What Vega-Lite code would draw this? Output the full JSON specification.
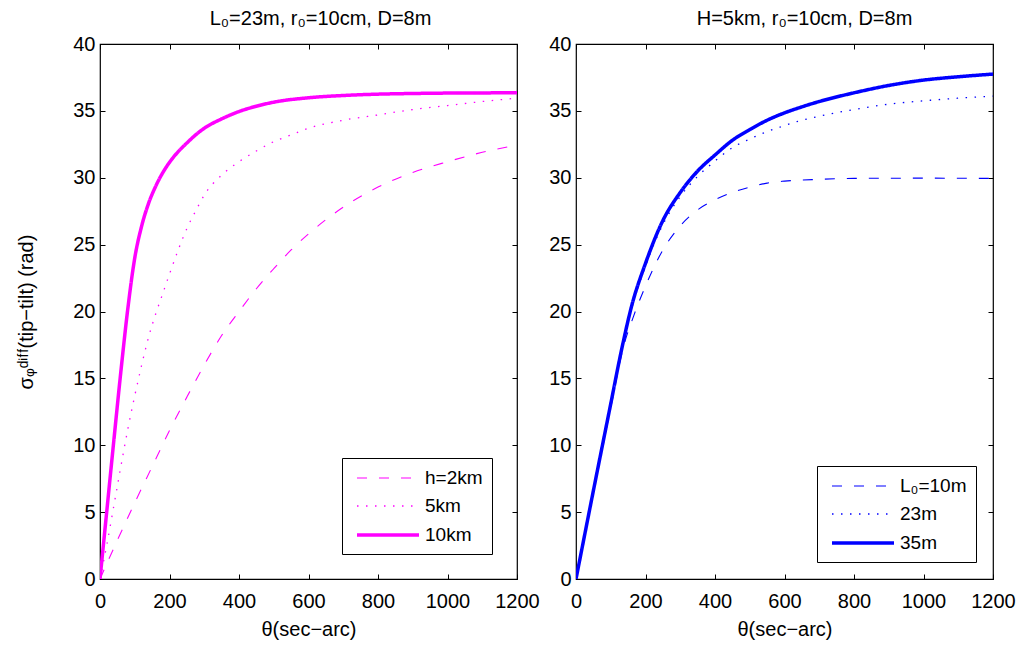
{
  "$schema": "https://vega.github.io/schema/vega-lite/v6.json",
  "background": "white",
  "padding": {"left": 16, "top": 8, "right": 5, "bottom": 5},
  "config": {
    "font": "Liberation Sans",
    "view": {"stroke": "black", "strokeWidth": 1.2},
    "axis": {
      "labelFont": "Liberation Sans", "labelFontSize": 20, "labelColor": "black",
      "titleFont": "Liberation Sans", "titleFontSize": 20, "titleFontWeight": "normal", "titleColor": "black",
      "tickColor": "black", "tickSize": -5, "tickWidth": 1, "domain": false, "grid": false,
      "labelFlush": false, "labelOverlap": false
    },
    "legend": {
      "orient": "bottom-right", "offset": 25, "strokeColor": "black", "fillColor": "white",
      "padding": 9, "labelFont": "Liberation Sans", "labelFontSize": 19, "labelColor": "black",
      "symbolType": "M-0.6,0H5.6", "symbolSize": 400, "rowPadding": 7, "labelOffset": 50
    },
    "title": {"font": "Liberation Sans", "fontSize": 20, "fontWeight": "normal", "color": "black", "offset": 5}
  },
  "datasets": {
    "left": [
      {"s": "h=2km", "t": 0, "v": 0}, {"s": "h=2km", "t": 50, "v": 2.9}, {"s": "h=2km", "t": 100, "v": 5.7}, {"s": "h=2km", "t": 150, "v": 8.4}, {"s": "h=2km", "t": 200, "v": 11.1}, {"s": "h=2km", "t": 250, "v": 13.6}, {"s": "h=2km", "t": 300, "v": 16.0}, {"s": "h=2km", "t": 350, "v": 18.2}, {"s": "h=2km", "t": 400, "v": 20.0}, {"s": "h=2km", "t": 450, "v": 21.7}, {"s": "h=2km", "t": 500, "v": 23.2}, {"s": "h=2km", "t": 550, "v": 24.6}, {"s": "h=2km", "t": 600, "v": 25.8}, {"s": "h=2km", "t": 700, "v": 27.8}, {"s": "h=2km", "t": 800, "v": 29.3}, {"s": "h=2km", "t": 900, "v": 30.4}, {"s": "h=2km", "t": 1000, "v": 31.2}, {"s": "h=2km", "t": 1100, "v": 31.9}, {"s": "h=2km", "t": 1200, "v": 32.45},
      {"s": "5km", "t": 0, "v": 0}, {"s": "5km", "t": 20, "v": 2.6}, {"s": "5km", "t": 40, "v": 5.5}, {"s": "5km", "t": 60, "v": 8.4}, {"s": "5km", "t": 80, "v": 11.2}, {"s": "5km", "t": 100, "v": 13.7}, {"s": "5km", "t": 120, "v": 16.0}, {"s": "5km", "t": 140, "v": 18.1}, {"s": "5km", "t": 160, "v": 19.8}, {"s": "5km", "t": 180, "v": 21.3}, {"s": "5km", "t": 200, "v": 22.8}, {"s": "5km", "t": 225, "v": 24.6}, {"s": "5km", "t": 250, "v": 26.2}, {"s": "5km", "t": 275, "v": 27.5}, {"s": "5km", "t": 300, "v": 28.7}, {"s": "5km", "t": 350, "v": 30.2}, {"s": "5km", "t": 400, "v": 31.2}, {"s": "5km", "t": 450, "v": 32.0}, {"s": "5km", "t": 500, "v": 32.7}, {"s": "5km", "t": 550, "v": 33.2}, {"s": "5km", "t": 600, "v": 33.7}, {"s": "5km", "t": 700, "v": 34.3}, {"s": "5km", "t": 800, "v": 34.7}, {"s": "5km", "t": 900, "v": 35.1}, {"s": "5km", "t": 1000, "v": 35.4}, {"s": "5km", "t": 1100, "v": 35.7}, {"s": "5km", "t": 1200, "v": 35.95},
      {"s": "10km", "t": 0, "v": 0}, {"s": "10km", "t": 20, "v": 5.2}, {"s": "10km", "t": 40, "v": 10.4}, {"s": "10km", "t": 60, "v": 15.5}, {"s": "10km", "t": 80, "v": 20.2}, {"s": "10km", "t": 100, "v": 24.0}, {"s": "10km", "t": 120, "v": 26.4}, {"s": "10km", "t": 140, "v": 28.1}, {"s": "10km", "t": 160, "v": 29.35}, {"s": "10km", "t": 180, "v": 30.35}, {"s": "10km", "t": 200, "v": 31.15}, {"s": "10km", "t": 225, "v": 31.95}, {"s": "10km", "t": 250, "v": 32.6}, {"s": "10km", "t": 275, "v": 33.2}, {"s": "10km", "t": 300, "v": 33.7}, {"s": "10km", "t": 350, "v": 34.4}, {"s": "10km", "t": 400, "v": 34.95}, {"s": "10km", "t": 450, "v": 35.35}, {"s": "10km", "t": 500, "v": 35.65}, {"s": "10km", "t": 600, "v": 35.98}, {"s": "10km", "t": 700, "v": 36.15}, {"s": "10km", "t": 800, "v": 36.25}, {"s": "10km", "t": 900, "v": 36.3}, {"s": "10km", "t": 1000, "v": 36.33}, {"s": "10km", "t": 1200, "v": 36.35}
    ],
    "right": [
      {"s": "L₀=10m", "t": 0, "v": 0}, {"s": "L₀=10m", "t": 50, "v": 6.5}, {"s": "L₀=10m", "t": 100, "v": 12.8}, {"s": "L₀=10m", "t": 136, "v": 17.3}, {"s": "L₀=10m", "t": 165, "v": 19.6}, {"s": "L₀=10m", "t": 200, "v": 21.9}, {"s": "L₀=10m", "t": 250, "v": 24.6}, {"s": "L₀=10m", "t": 300, "v": 26.4}, {"s": "L₀=10m", "t": 350, "v": 27.6}, {"s": "L₀=10m", "t": 400, "v": 28.35}, {"s": "L₀=10m", "t": 450, "v": 28.9}, {"s": "L₀=10m", "t": 500, "v": 29.3}, {"s": "L₀=10m", "t": 550, "v": 29.6}, {"s": "L₀=10m", "t": 600, "v": 29.75}, {"s": "L₀=10m", "t": 700, "v": 29.88}, {"s": "L₀=10m", "t": 800, "v": 29.95}, {"s": "L₀=10m", "t": 1000, "v": 29.97}, {"s": "L₀=10m", "t": 1200, "v": 29.95},
      {"s": "23m", "t": 0, "v": 0}, {"s": "23m", "t": 50, "v": 6.6}, {"s": "23m", "t": 100, "v": 13.1}, {"s": "23m", "t": 130, "v": 17.0}, {"s": "23m", "t": 160, "v": 20.2}, {"s": "23m", "t": 200, "v": 23.4}, {"s": "23m", "t": 250, "v": 26.5}, {"s": "23m", "t": 300, "v": 28.6}, {"s": "23m", "t": 350, "v": 30.1}, {"s": "23m", "t": 400, "v": 31.25}, {"s": "23m", "t": 450, "v": 32.25}, {"s": "23m", "t": 500, "v": 32.9}, {"s": "23m", "t": 550, "v": 33.45}, {"s": "23m", "t": 600, "v": 33.9}, {"s": "23m", "t": 650, "v": 34.3}, {"s": "23m", "t": 700, "v": 34.6}, {"s": "23m", "t": 800, "v": 35.1}, {"s": "23m", "t": 900, "v": 35.5}, {"s": "23m", "t": 1000, "v": 35.75}, {"s": "23m", "t": 1100, "v": 35.95}, {"s": "23m", "t": 1200, "v": 36.1},
      {"s": "35m", "t": 0, "v": 0}, {"s": "35m", "t": 50, "v": 6.6}, {"s": "35m", "t": 100, "v": 13.1}, {"s": "35m", "t": 130, "v": 17.0}, {"s": "35m", "t": 160, "v": 20.4}, {"s": "35m", "t": 200, "v": 23.6}, {"s": "35m", "t": 250, "v": 26.8}, {"s": "35m", "t": 300, "v": 28.9}, {"s": "35m", "t": 350, "v": 30.5}, {"s": "35m", "t": 400, "v": 31.7}, {"s": "35m", "t": 450, "v": 32.8}, {"s": "35m", "t": 500, "v": 33.6}, {"s": "35m", "t": 550, "v": 34.3}, {"s": "35m", "t": 600, "v": 34.85}, {"s": "35m", "t": 650, "v": 35.3}, {"s": "35m", "t": 700, "v": 35.7}, {"s": "35m", "t": 800, "v": 36.35}, {"s": "35m", "t": 900, "v": 36.9}, {"s": "35m", "t": 1000, "v": 37.3}, {"s": "35m", "t": 1100, "v": 37.55}, {"s": "35m", "t": 1200, "v": 37.75}
    ]
  },
  "resolve": {
    "scale": {"strokeDash": "independent", "strokeWidth": "independent"},
    "legend": {"strokeDash": "independent", "strokeWidth": "independent"}
  },
  "hconcat": [
    {
      "width": 417, "height": 535,
      "title": {"text": "L₀=23m, r₀=10cm, D=8m", "dx": 12},
      "data": {"name": "left"},
      "layer": [
        {
          "mark": {"type": "line", "clip": true, "interpolate": "monotone"},
          "encoding": {
            "x": {"field": "t", "type": "quantitative", "scale": {"domain": [0, 1200], "nice": false},
                  "axis": {"orient": "bottom", "values": [0, 200, 400, 600, 800, 1000, 1200], "format": "d", "labelPadding": 17, "title": "θ(sec−arc)", "titlePadding": 8}},
            "y": {"field": "v", "type": "quantitative", "scale": {"domain": [0, 40], "nice": false},
                  "axis": {"orient": "left", "values": [0, 5, 10, 15, 20, 25, 30, 35, 40], "labelPadding": 10, "title": "σᵩᵈⁱᶠᶠ(tip−tilt) (rad)", "titlePadding": 36}},
            "color": {"value": "#ff00ff"},
            "strokeDash": {"field": "s", "type": "nominal", "scale": {"domain": ["h=2km", "5km", "10km"], "range": [[10, 12], [1.5, 7.5], [1, 0]]}, "legend": {"title": null, "symbolStrokeColor": "#ff00ff"}},
            "strokeWidth": {"field": "s", "type": "nominal", "scale": {"type": "ordinal", "domain": ["h=2km", "5km", "10km"], "range": [1.1, 1.3, 3.5]}, "legend": {"title": null, "symbolStrokeColor": "#ff00ff"}}
          }
        },
        {
          "mark": {"type": "point", "opacity": 0},
          "encoding": {
            "x": {"field": "t", "type": "quantitative", "axis": {"orient": "top", "values": [0, 200, 400, 600, 800, 1000, 1200], "labels": false, "title": null}},
            "y": {"field": "v", "type": "quantitative", "axis": {"orient": "right", "values": [0, 5, 10, 15, 20, 25, 30, 35, 40], "labels": false, "title": null}}
          }
        }
      ],
      "resolve": {"axis": {"x": "independent", "y": "independent"}}
    },
    {
      "width": 417, "height": 535,
      "title": {"text": "H=5km, r₀=10cm, D=8m", "dx": 20},
      "data": {"name": "right"},
      "layer": [
        {
          "mark": {"type": "line", "clip": true, "interpolate": "monotone"},
          "encoding": {
            "x": {"field": "t", "type": "quantitative", "scale": {"domain": [0, 1200], "nice": false},
                  "axis": {"orient": "bottom", "values": [0, 200, 400, 600, 800, 1000, 1200], "format": "d", "labelPadding": 17, "title": "θ(sec−arc)", "titlePadding": 8}},
            "y": {"field": "v", "type": "quantitative", "scale": {"domain": [0, 40], "nice": false},
                  "axis": {"orient": "left", "values": [0, 5, 10, 15, 20, 25, 30, 35, 40], "labelPadding": 10, "title": null}},
            "color": {"value": "#0000ff"},
            "strokeDash": {"field": "s", "type": "nominal", "scale": {"domain": ["L₀=10m", "23m", "35m"], "range": [[10, 12], [1.5, 7.5], [1, 0]]}, "legend": {"title": null, "offset": 17, "symbolStrokeColor": "#0000ff"}},
            "strokeWidth": {"field": "s", "type": "nominal", "scale": {"type": "ordinal", "domain": ["L₀=10m", "23m", "35m"], "range": [1.1, 1.3, 3.5]}, "legend": {"title": null, "offset": 17, "symbolStrokeColor": "#0000ff"}}
          }
        },
        {
          "mark": {"type": "point", "opacity": 0},
          "encoding": {
            "x": {"field": "t", "type": "quantitative", "axis": {"orient": "top", "values": [0, 200, 400, 600, 800, 1000, 1200], "labels": false, "title": null}},
            "y": {"field": "v", "type": "quantitative", "axis": {"orient": "right", "values": [0, 5, 10, 15, 20, 25, 30, 35, 40], "labels": false, "title": null}}
          }
        }
      ],
      "resolve": {"axis": {"x": "independent", "y": "independent"}}
    }
  ],
  "bounds": "flush",
  "spacing": 59
}
